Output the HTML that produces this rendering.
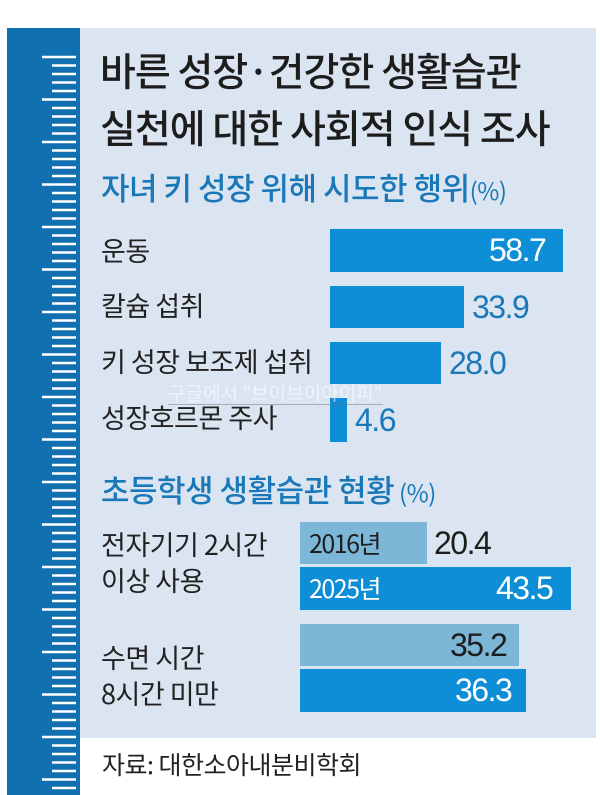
<!DOCTYPE html>
<html><head><meta charset="utf-8"><style>
body{margin:0;width:600px;height:795px;background:#fff;position:relative;overflow:hidden;font-family:"Liberation Sans","Noto Sans CJK KR",sans-serif;}
.a{position:absolute;white-space:nowrap;}
.t{font-family:"Noto Sans CJK KR",sans-serif;}
.lab{font-size:27px;color:#222;line-height:32px;letter-spacing:-0.5px;}
.bar{position:absolute;background:#0e8ed6;}
.bar2{position:absolute;background:#7cb7d8;}
.num{font-size:32px;line-height:40px;letter-spacing:-1.5px;}
</style></head><body>
<div class="a" style="left:7px;top:28px;width:73px;height:767px;background:#1170b0"></div>
<div class="a" style="left:80px;top:28px;width:516px;height:710px;background:#dbe5f1"></div>
<div class="a t" style="left:100px;top:42px;font-size:39px;font-weight:500;color:#1d1d1d;line-height:57px;letter-spacing:-1px">바른 성장·건강한 생활습관<br>실천에 대한 사회적 인식 조사</div>
<div class="a t" style="left:101px;top:164px;font-size:31px;font-weight:500;color:#1a78b8;letter-spacing:-0.5px">자녀 키 성장 위해 시도한 행위<span style="font-size:24px;font-weight:400">(%)</span></div>
<div class="a t lab" style="left:101px;top:234px">운동</div>
<div class="a t lab" style="left:101px;top:289px">칼슘 섭취</div>
<div class="a t lab" style="left:101px;top:345px">키 성장 보조제 섭취</div>
<div class="a t lab" style="left:101px;top:401px">성장호르몬 주사</div>
<div class="bar" style="left:330px;top:229px;width:233px;height:43px"></div>
<div class="bar" style="left:330px;top:286px;width:134px;height:42px"></div>
<div class="bar" style="left:330px;top:342px;width:111px;height:42px"></div>
<div class="bar" style="left:330px;top:398px;width:17px;height:44px"></div>
<div class="a num" style="left:489px;top:230px;color:#fff">58.7</div>
<div class="a num" style="left:472px;top:287px;color:#1a78b8">33.9</div>
<div class="a num" style="left:449px;top:343px;color:#1a78b8">28.0</div>
<div class="a num" style="left:355px;top:400px;color:#1a78b8">4.6</div>
<div class="a t" style="left:168px;top:382px;font-size:19px;color:rgba(255,255,255,0.55);border-bottom:1px solid rgba(120,120,120,0.5);line-height:22px">구글에서 "브이브이아이피"</div>
<div class="a t" style="left:101px;top:466px;font-size:31px;font-weight:500;color:#1a78b8;letter-spacing:-0.5px">초등학생 생활습관 현황<span style="font-size:24px;font-weight:400"> (%)</span></div>
<div class="a t lab" style="left:101px;top:526px;line-height:36px">전자기기 2시간<br>이상 사용</div>
<div class="a t lab" style="left:101px;top:639px;line-height:36px">수면 시간<br>8시간 미만</div>
<div class="bar2" style="left:300px;top:522px;width:127px;height:42px"></div>
<div class="bar" style="left:300px;top:567px;width:271px;height:43px"></div>
<div class="bar2" style="left:300px;top:624px;width:219px;height:42px"></div>
<div class="bar" style="left:300px;top:669px;width:226px;height:43px"></div>
<div class="a t" style="left:309px;top:525px;font-size:25px;color:#1d1d1d;letter-spacing:-1.5px">2016년</div>
<div class="a t" style="left:309px;top:570px;font-size:25px;color:#fff;letter-spacing:-1.5px">2025년</div>
<div class="a num" style="left:434px;top:523px;color:#1d1d1d">20.4</div>
<div class="a num" style="left:496px;top:568px;color:#fff">43.5</div>
<div class="a num" style="left:450px;top:625px;color:#1d1d1d">35.2</div>
<div class="a num" style="left:455px;top:670px;color:#fff">36.3</div>
<div class="a t" style="left:102px;top:746px;font-size:25px;color:#222;letter-spacing:-0.5px">자료: 대한소아내분비학회</div>
<svg class="a" style="left:0;top:0" width="80" height="795">
<g stroke="#fff" stroke-width="2.4">
<line x1="42" y1="57" x2="76" y2="57"/><line x1="52" y1="65.5" x2="76" y2="65.5"/><line x1="52" y1="74" x2="76" y2="74"/><line x1="52" y1="82.5" x2="76" y2="82.5"/><line x1="52" y1="91" x2="76" y2="91"/><line x1="42" y1="99.5" x2="76" y2="99.5"/><line x1="52" y1="108" x2="76" y2="108"/><line x1="52" y1="116.5" x2="76" y2="116.5"/><line x1="52" y1="125" x2="76" y2="125"/><line x1="52" y1="133.5" x2="76" y2="133.5"/><line x1="42" y1="142" x2="76" y2="142"/><line x1="52" y1="150.5" x2="76" y2="150.5"/><line x1="52" y1="159" x2="76" y2="159"/><line x1="52" y1="167.5" x2="76" y2="167.5"/><line x1="52" y1="176" x2="76" y2="176"/><line x1="42" y1="184.5" x2="76" y2="184.5"/><line x1="52" y1="193" x2="76" y2="193"/><line x1="52" y1="201.5" x2="76" y2="201.5"/><line x1="52" y1="210" x2="76" y2="210"/><line x1="52" y1="218.5" x2="76" y2="218.5"/><line x1="42" y1="227" x2="76" y2="227"/><line x1="52" y1="235.5" x2="76" y2="235.5"/><line x1="52" y1="244" x2="76" y2="244"/><line x1="52" y1="252.5" x2="76" y2="252.5"/><line x1="52" y1="261" x2="76" y2="261"/><line x1="42" y1="269.5" x2="76" y2="269.5"/><line x1="52" y1="278" x2="76" y2="278"/><line x1="52" y1="286.5" x2="76" y2="286.5"/><line x1="52" y1="295" x2="76" y2="295"/><line x1="52" y1="303.5" x2="76" y2="303.5"/><line x1="42" y1="312" x2="76" y2="312"/><line x1="52" y1="320.5" x2="76" y2="320.5"/><line x1="52" y1="329" x2="76" y2="329"/><line x1="52" y1="337.5" x2="76" y2="337.5"/><line x1="52" y1="346" x2="76" y2="346"/><line x1="42" y1="354.5" x2="76" y2="354.5"/><line x1="52" y1="363" x2="76" y2="363"/><line x1="52" y1="371.5" x2="76" y2="371.5"/><line x1="52" y1="380" x2="76" y2="380"/><line x1="52" y1="388.5" x2="76" y2="388.5"/><line x1="42" y1="397" x2="76" y2="397"/><line x1="52" y1="405.5" x2="76" y2="405.5"/><line x1="52" y1="414" x2="76" y2="414"/><line x1="52" y1="422.5" x2="76" y2="422.5"/><line x1="52" y1="431" x2="76" y2="431"/><line x1="42" y1="439.5" x2="76" y2="439.5"/><line x1="52" y1="448" x2="76" y2="448"/><line x1="52" y1="456.5" x2="76" y2="456.5"/><line x1="52" y1="465" x2="76" y2="465"/><line x1="52" y1="473.5" x2="76" y2="473.5"/><line x1="42" y1="482" x2="76" y2="482"/><line x1="52" y1="490.5" x2="76" y2="490.5"/><line x1="52" y1="499" x2="76" y2="499"/><line x1="52" y1="507.5" x2="76" y2="507.5"/><line x1="52" y1="516" x2="76" y2="516"/><line x1="42" y1="524.5" x2="76" y2="524.5"/><line x1="52" y1="533" x2="76" y2="533"/><line x1="52" y1="541.5" x2="76" y2="541.5"/><line x1="52" y1="550" x2="76" y2="550"/><line x1="52" y1="558.5" x2="76" y2="558.5"/><line x1="42" y1="567" x2="76" y2="567"/><line x1="52" y1="575.5" x2="76" y2="575.5"/><line x1="52" y1="584" x2="76" y2="584"/><line x1="52" y1="592.5" x2="76" y2="592.5"/><line x1="52" y1="601" x2="76" y2="601"/><line x1="42" y1="609.5" x2="76" y2="609.5"/><line x1="52" y1="618" x2="76" y2="618"/><line x1="52" y1="626.5" x2="76" y2="626.5"/><line x1="52" y1="635" x2="76" y2="635"/><line x1="52" y1="643.5" x2="76" y2="643.5"/><line x1="42" y1="652" x2="76" y2="652"/><line x1="52" y1="660.5" x2="76" y2="660.5"/><line x1="52" y1="669" x2="76" y2="669"/><line x1="52" y1="677.5" x2="76" y2="677.5"/><line x1="52" y1="686" x2="76" y2="686"/><line x1="42" y1="694.5" x2="76" y2="694.5"/><line x1="52" y1="703" x2="76" y2="703"/><line x1="52" y1="711.5" x2="76" y2="711.5"/><line x1="52" y1="720" x2="76" y2="720"/><line x1="52" y1="728.5" x2="76" y2="728.5"/><line x1="42" y1="737" x2="76" y2="737"/><line x1="52" y1="745.5" x2="76" y2="745.5"/><line x1="52" y1="754" x2="76" y2="754"/><line x1="52" y1="762.5" x2="76" y2="762.5"/><line x1="52" y1="771" x2="76" y2="771"/><line x1="42" y1="779.5" x2="76" y2="779.5"/><line x1="52" y1="788" x2="76" y2="788"/>
</g></svg>
</body></html>
